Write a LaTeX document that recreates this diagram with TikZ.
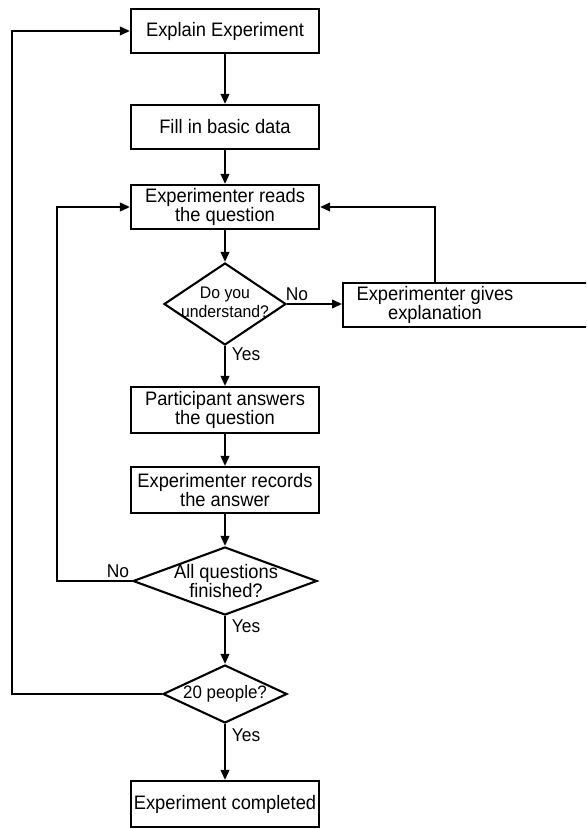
\documentclass[tikz,border=0pt]{standalone}
\usepackage{fontspec}
\setmainfont[FakeStretch=0.94]{Liberation Sans}
\usetikzlibrary{arrows.meta,shapes.geometric}
\begin{document}
\begin{tikzpicture}[x=1pt,y=-1pt,
  box/.style={draw, line width=2.1pt, minimum width=188pt, minimum height=44pt, inner sep=0pt, align=center, font=\fontsize{19.5}{17}\selectfont},
  dia/.style={draw, diamond, line width=2.1pt, inner sep=0pt},
  dtext/.style={align=center, inner sep=0pt},
  lbl/.style={font=\fontsize{18.5}{18}\selectfont, inner sep=0pt},
  arr/.style={line width=2.1pt, -{Triangle[length=10pt,width=8.5pt]}}]
\useasboundingbox (0,0) rectangle (586,829);
\clip (0,0) rectangle (586,829);
\coordinate (innerx) at (57,0);
\coordinate (outerx) at (12,0);
\node[box] (explain) at (225,31) {Explain Experiment};
\node[box] (fill) at (225,127) {Fill in basic data};
\node[box] (reads) at (225,207) {Experimenter reads\\the question};
\node[dia, minimum width=122pt, minimum height=82pt] (und) at (225,304) {};
\node[dtext, font=\fontsize{16.8}{19}\selectfont] (undt) at (225,302) {Do you\\understand?};
\node[box, minimum width=260pt, anchor=west] (expl) at (342,305) {};
\node[dtext, font=\fontsize{19.5}{17}\selectfont] (explt) at (435,305) {Experimenter gives\\explanation};
\node[box, minimum height=46pt] (part) at (225,410) {Participant answers\\the question};
\node[box, minimum height=46pt] (rec) at (225,490) {Experimenter records\\the answer};
\node[dia, minimum width=184pt, minimum height=68pt] (allq) at (225,581) {};
\node[dtext, font=\fontsize{19.5}{17}\selectfont] (allqt) at (226,581) {All questions\\finished?};
\node[dia, minimum width=124pt, minimum height=58pt] (ppl) at (225,694) {};
\node[dtext, font=\fontsize{18}{17}\selectfont] (pplt) at (225,694) {20 people?};
\node[box, minimum height=46pt] (done) at (225,804) {Experiment completed};
\node[lbl] (no1) at (297,294) {No};
\node[lbl] (yes1) at (246,354) {Yes};
\node[lbl] (no2) at (118,571) {No};
\node[lbl] (yes2) at (246,626) {Yes};
\node[lbl] (yes3) at (246,735) {Yes};
\draw[arr] (explain) -- (fill);
\draw[arr] (fill) -- (reads);
\draw[arr] (reads) -- (und);
\draw[arr] (und.east) -- (und.east -| expl.west);
\draw[arr] (explt |- expl.north) -- (explt |- reads.east) -- (reads.east);
\draw[arr] (und) -- (part);
\draw[arr] (part) -- (rec);
\draw[arr] (rec) -- (allq);
\draw[arr] (allq.west) -- (allq.west -| innerx) -- (reads.west -| innerx) -- (reads.west);
\draw[arr] (allq) -- (ppl);
\draw[arr] (ppl.west) -- (ppl.west -| outerx) -- (explain.west -| outerx) -- (explain.west);
\draw[arr] (ppl) -- (done);
\end{tikzpicture}
\end{document}
